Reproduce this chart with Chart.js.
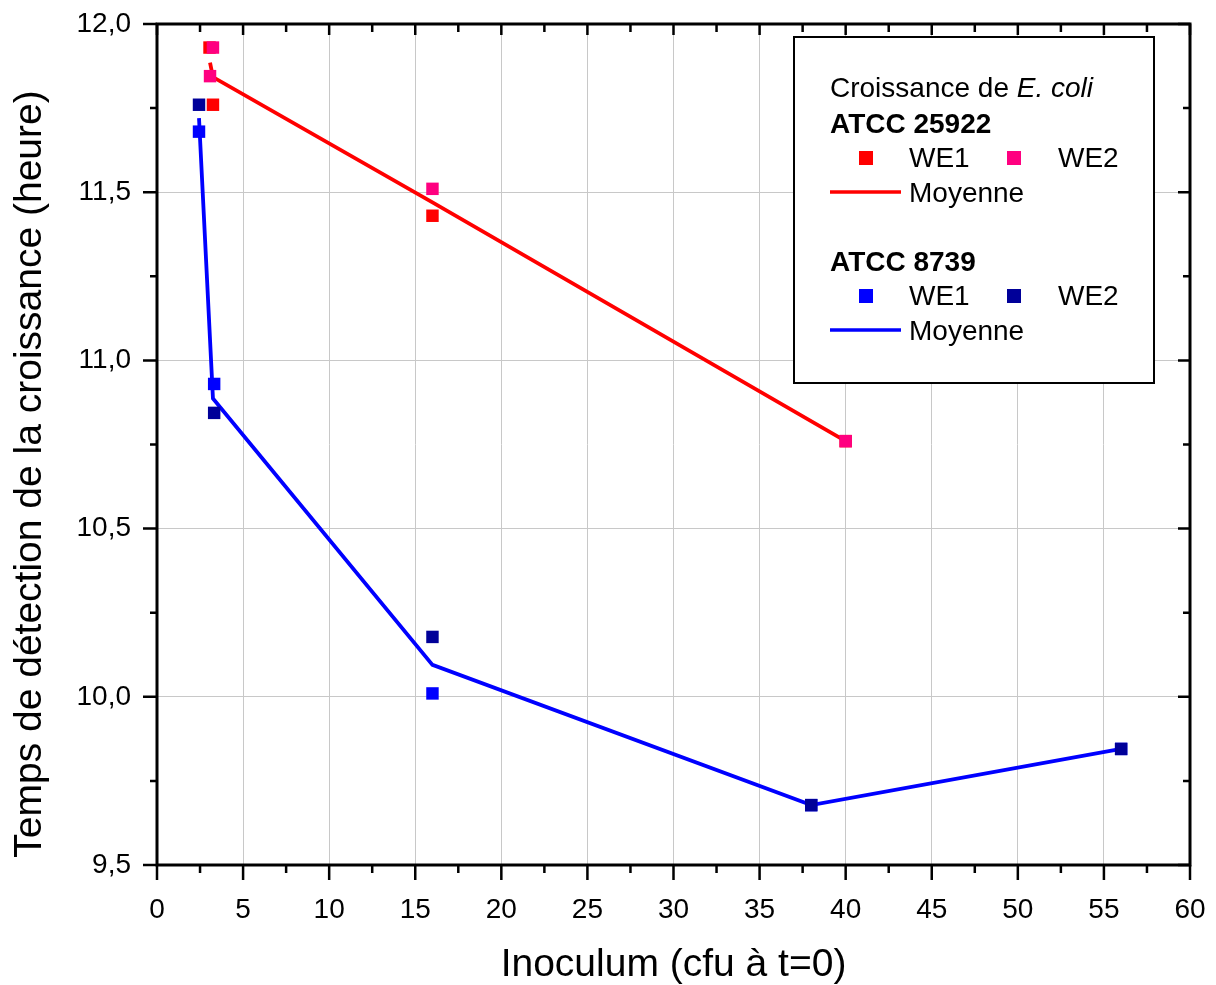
<!DOCTYPE html>
<html>
<head>
<meta charset="utf-8">
<script src="https://cdn.jsdelivr.net/npm/chart.js@4"></script>
<style>
html,body{margin:0;padding:0;background:#fff;}
#wrap{width:1216px;height:985px;}
</style>
</head>
<body>
<div id="wrap"><canvas id="c" width="1216" height="985"></canvas></div>
<script>
// ---- data ----
const xRedWE1 = [3.05, 3.25, 16, 40];
const yRedWE1 = [11.93, 11.76, 11.43, 10.76];
const xRedWE2 = [3.25, 3.08, 16, 40];
const yRedWE2 = [11.93, 11.845, 11.51, 10.76];
const xRedMean = [3.08, 3.25, 16, 40];
const yRedMean = [11.885, 11.842, 11.47, 10.76];

const xBlueWE1 = [2.44, 3.32, 16, 38, 56];
const yBlueWE1 = [11.68, 10.93, 10.01, 9.678, 9.845];
const xBlueWE2 = [2.44, 3.32, 16, 38, 56];
const yBlueWE2 = [11.76, 10.844, 10.178, 9.678, 9.845];
const xBlueMean = [2.44, 3.25, 16, 38, 56];
const yBlueMean = [11.72, 10.887, 10.095, 9.678, 9.845];

const xTicks = [0,5,10,15,20,25,30,35,40,45,50,55,60];
const yTicks = [9.5,10.0,10.5,11.0,11.5,12.0];
const xTitle = 'Inoculum (cfu à t=0)';
const yTitle = 'Temps de détection de la croissance (heure)';

const FONT = '"Liberation Sans", Arial, sans-serif';
const pts = (xs, ys) => xs.map((v,i)=>({x:v, y:ys[i]}));

const frame = {
  id:'frame',
  afterDraw(chart){
    const {ctx, chartArea:{left,right,top,bottom}, scales:{x,y}} = chart;
    ctx.save();
    ctx.strokeStyle='#000';
    ctx.lineWidth=2.5;
    ctx.beginPath();
    for(let i=0;i<xTicks.length;i++){
      const v=xTicks[i];
      const px=x.getPixelForValue(v);
      ctx.moveTo(px,bottom); ctx.lineTo(px,bottom+15);
      ctx.moveTo(px,top); ctx.lineTo(px,top+11);
      if(i<xTicks.length-1){
        const pm=x.getPixelForValue((v+xTicks[i+1])/2);
        ctx.moveTo(pm,bottom); ctx.lineTo(pm,bottom+8);
        ctx.moveTo(pm,top); ctx.lineTo(pm,top+8);
      }
    }
    for(let i=0;i<yTicks.length;i++){
      const v=yTicks[i];
      const py=y.getPixelForValue(v);
      ctx.moveTo(left-14,py); ctx.lineTo(left,py);
      ctx.moveTo(right,py); ctx.lineTo(right-12,py);
      if(i<yTicks.length-1){
        const pm=y.getPixelForValue((v+yTicks[i+1])/2);
        ctx.moveTo(left-7,pm); ctx.lineTo(left,pm);
        ctx.moveTo(right,pm); ctx.lineTo(right-7,pm);
      }
    }
    ctx.stroke();
    ctx.lineWidth=3;
    ctx.strokeRect(left,top,right-left,bottom-top);
    // y axis title (offset downward as in the reference)
    ctx.save();
    ctx.translate(30,474);
    ctx.rotate(-Math.PI/2);
    ctx.fillStyle='#000';
    ctx.font='39px '+FONT;
    ctx.textAlign='center';
    ctx.textBaseline='middle';
    ctx.fillText(yTitle,0,0);
    ctx.restore();
    ctx.restore();
  }
};

const legendBox = {
  id:'legendBox',
  afterDraw(chart){
    const ctx=chart.ctx;
    ctx.save();
    ctx.fillStyle='#fff';
    ctx.fillRect(794,37,360,346);
    ctx.strokeStyle='#000'; ctx.lineWidth=2;
    ctx.strokeRect(794,37,360,346);
    ctx.fillStyle='#000';
    ctx.textBaseline='alphabetic';
    ctx.textAlign='left';
    ctx.font='28px '+FONT;
    const t1='Croissance de ';
    ctx.fillText(t1,830,97);
    const w=ctx.measureText(t1).width;
    ctx.font='italic 28px '+FONT;
    ctx.fillText('E. coli',830+w,97);
    const group=(title, base, c1, c2, lc)=>{
      ctx.font='bold 28px '+FONT;
      ctx.fillStyle='#000';
      ctx.fillText(title,830,base);
      ctx.font='28px '+FONT;
      ctx.fillStyle=c1; ctx.fillRect(859,base+18,14,14);
      ctx.fillStyle=c2; ctx.fillRect(1007,base+18,14,14);
      ctx.fillStyle='#000';
      ctx.fillText('WE1',909,base+34);
      ctx.fillText('WE2',1058,base+34);
      ctx.strokeStyle=lc; ctx.lineWidth=3.5;
      ctx.beginPath(); ctx.moveTo(830,base+59); ctx.lineTo(901,base+59); ctx.stroke();
      ctx.fillText('Moyenne',909,base+69);
    };
    group('ATCC 25922',133,'#ff0000','#ff0080','#ff0000');
    group('ATCC 8739',271,'#0000ff','#000099','#0000ff');
    ctx.restore();
  }
};

const lineDs = (data,color)=>({data, showLine:true, borderColor:color, borderWidth:3.8, pointRadius:0, fill:false, order:3, tension:0});
const ptDs = (data,color,order)=>({data, showLine:false, pointStyle:'rect', pointRadius:8.8, pointHoverRadius:8.8, backgroundColor:color, borderColor:color, borderWidth:0, order});

new Chart(document.getElementById('c'),{
  type:'scatter',
  data:{datasets:[
    lineDs(pts(xRedMean,yRedMean),'#ff0000'),
    lineDs(pts(xBlueMean,yBlueMean),'#0000ff'),
    ptDs(pts(xRedWE1,yRedWE1),'#ff0000',2),
    ptDs(pts(xBlueWE1,yBlueWE1),'#0000ff',2),
    ptDs(pts(xRedWE2,yRedWE2),'#ff0080',1),
    ptDs(pts(xBlueWE2,yBlueWE2),'#000099',1)
  ]},
  options:{
    responsive:false,
    animation:false,
    devicePixelRatio:1,
    layout:{padding:{left:0,right:26,top:24,bottom:0}},
    plugins:{legend:{display:false},tooltip:{enabled:false}},
    scales:{
      x:{
        type:'linear', min:0, max:60,
        afterBuildTicks(s){ s.ticks = xTicks.map(v=>({value:v})); },
        afterFit(s){ s.height=120; s.paddingLeft=0; s.paddingRight=0; },
        grid:{color:'#c8c8c8', lineWidth:1, drawTicks:false},
        border:{display:false},
        ticks:{color:'#000', font:{family:FONT,size:28}, padding:28, maxRotation:0, autoSkip:false},
        title:{display:true, text:xTitle, color:'#000', font:{family:FONT,size:39,lineHeight:1}, padding:{top:0,bottom:0}}
      },
      y:{
        type:'linear', min:9.5, max:12,
        afterBuildTicks(s){ s.ticks = yTicks.map(v=>({value:v})); },
        afterFit(s){ s.width=157; s.paddingTop=0; s.paddingBottom=0; },
        grid:{color:'#c8c8c8', lineWidth:1, drawTicks:false},
        border:{display:false},
        ticks:{color:'#000', font:{family:FONT,size:28}, padding:26, autoSkip:false,
          callback:v=>v.toFixed(1).replace('.',',')},
        title:{display:false, text:yTitle}
      }
    }
  },
  plugins:[frame, legendBox]
});
</script>
</body>
</html>
